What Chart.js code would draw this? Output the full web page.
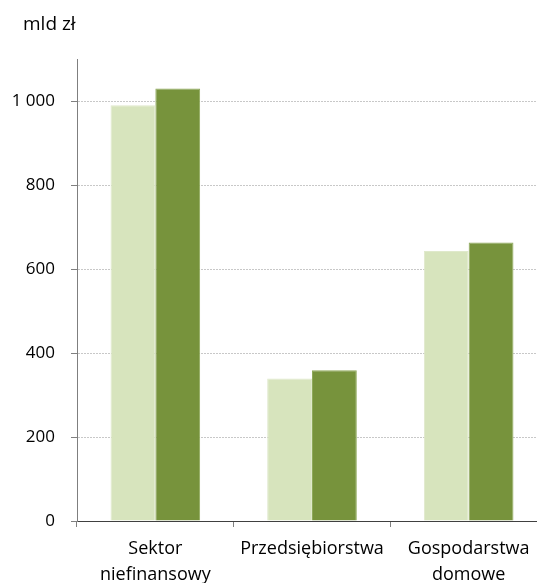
<!DOCTYPE html>
<html>
<head>
<meta charset="utf-8">
<script src="https://cdn.jsdelivr.net/npm/chart.js@4/dist/chart.umd.min.js"></script>
<style>
  html, body { margin: 0; padding: 0; background: #fff; overflow: hidden; }
  #wrap { position: relative; width: 547px; height: 583px; }
</style>
</head>
<body>
<div id="wrap"><canvas id="myChart"></canvas></div>
<script>
const categories = [['Sektor', 'niefinansowy'], 'Przedsiębiorstwa', ['Gospodarstwa', 'domowe']]
const seriesA = [990, 339, 643]
const seriesB = [1030, 359, 663]
const unitText = 'mld zł'

const lightGreen = '#d7e4bd'
const darkGreen = '#77933c'
const fontName = "'Open Sans', sans-serif"

// draws the unit caption in the top left corner
const unitLabel = {
    id: 'unitLabel',
    afterDraw(chart) {
        var ctx = chart.ctx
        ctx.save()
        ctx.font = '19px ' + fontName
        ctx.fillStyle = '#000'
        ctx.textBaseline = 'middle'
        ctx.fillText(unitText, 23, 25)
        ctx.restore()
    }
}

var ctx = document.getElementById('myChart')
var barChart = new Chart(ctx, {
    type: 'bar',
    data: {
        labels: categories,
        datasets: [{
            label: 'A',
            data: seriesA,
            backgroundColor: lightGreen,
            borderColor: '#dfe9cb',
            borderWidth: 1
        }, {
            label: 'B',
            data: seriesB,
            backgroundColor: darkGreen,
            borderColor: '#8ea95a',
            borderWidth: 1
        }]
    },
    options: {
        responsive: true,
        maintainAspectRatio: false,
        animation: false,
        layout: { padding: { top: 59, left: 0, right: 0, bottom: 0 } },
        datasets: { bar: { categoryPercentage: 0.572, barPercentage: 1 } },
        plugins: { legend: { display: false }, tooltip: { enabled: false } },
        scales: {
            x: {
                afterFit(scale) { scale.height = 62 },
                border: { color: '#404040', width: 1 },
                grid: { drawOnChartArea: false, tickLength: 6, tickColor: '#808080', offset: true },
                ticks: { color: '#000', padding: 9, font: { family: fontName, size: 18, lineHeight: 1.45 }, maxRotation: 0 }
            },
            y: {
                min: 0,
                max: 1100,
                afterFit(scale) { scale.width = 77 },
                afterBuildTicks(scale) {
                    scale.ticks = scale.ticks.filter(t => t.value % 200 === 0)
                },
                // in v4 the dash here is used for the grid lines
                border: { color: '#7f7f7f', width: 1, dash: [2, 1] },
                grid: {
                    color: (c) => (c.tick && c.tick.value === 0) ? 'rgba(0,0,0,0)' : '#c8c8c8',
                    tickColor: '#808080',
                    tickLength: 6,
                    lineWidth: 1
                },
                ticks: {
                    stepSize: 200,
                    color: '#000',
                    padding: 16,
                    font: { family: fontName, size: 17 },
                    callback: (v) => v >= 1000 ? Math.floor(v / 1000) + ' ' + String(v % 1000).padStart(3, '0') : String(v)
                }
            }
        }
    },
    plugins: [unitLabel]
})
</script>
</body>
</html>
